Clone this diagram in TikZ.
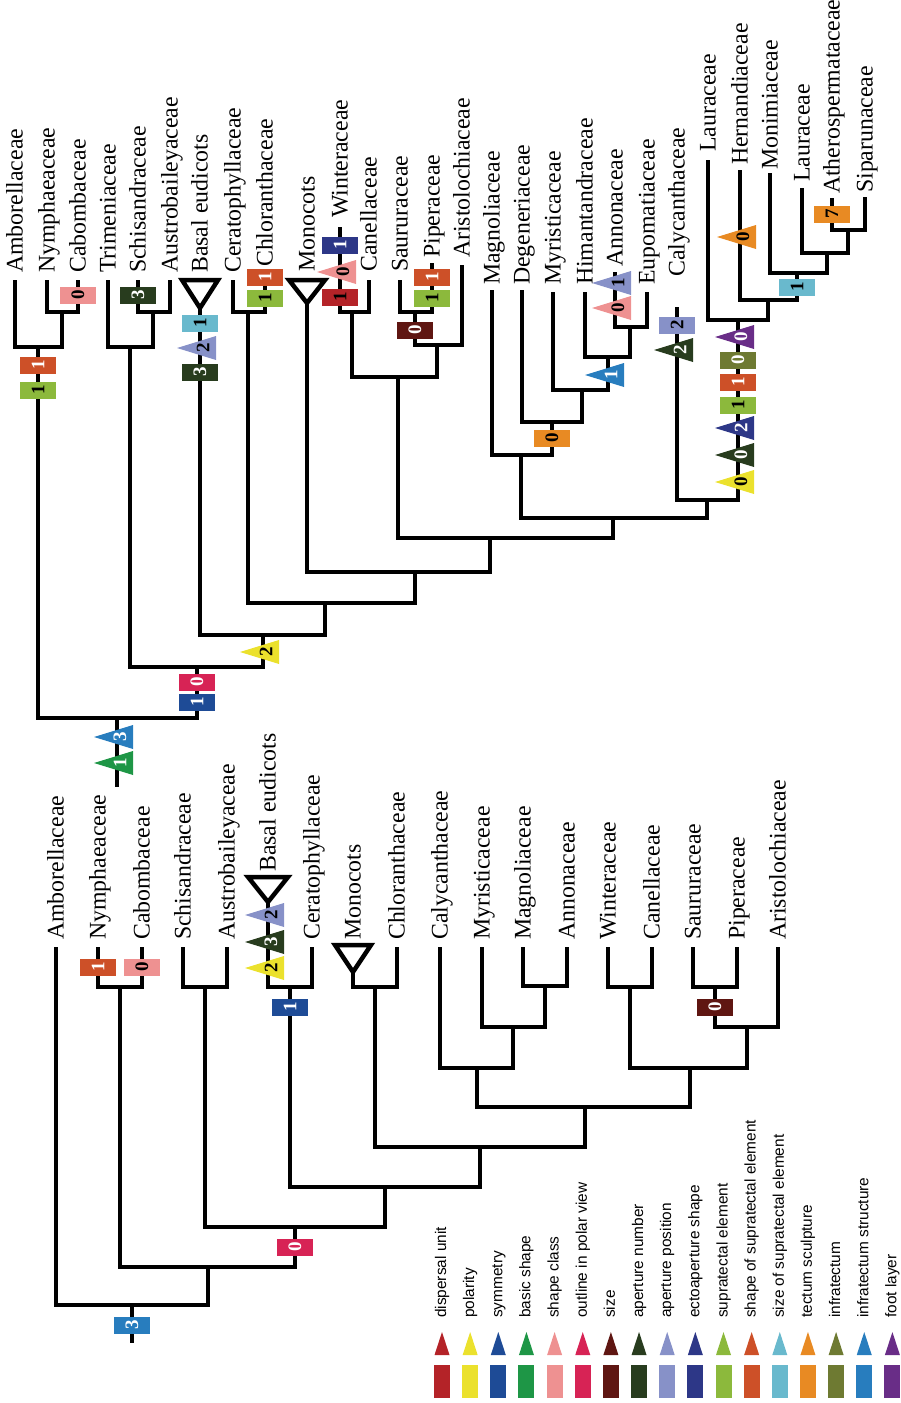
\documentclass[tikz,border=0pt]{standalone}
\usepackage{fontspec}
\setmainfont{Liberation Serif}
\newfontfamily\legfont{Liberation Sans}
\definecolor{cA}{RGB}{180,35,40}
\definecolor{cB}{RGB}{235,225,45}
\definecolor{cC}{RGB}{30,75,150}
\definecolor{cD}{RGB}{30,150,70}
\definecolor{cE}{RGB}{238,145,145}
\definecolor{cF}{RGB}{215,35,85}
\definecolor{cG}{RGB}{95,22,18}
\definecolor{cH}{RGB}{40,60,30}
\definecolor{cI}{RGB}{135,145,200}
\definecolor{cJ}{RGB}{45,55,135}
\definecolor{cK}{RGB}{140,185,60}
\definecolor{cL}{RGB}{205,80,40}
\definecolor{cM}{RGB}{105,185,205}
\definecolor{cN}{RGB}{232,138,35}
\definecolor{cO}{RGB}{110,122,50}
\definecolor{cP}{RGB}{40,125,190}
\definecolor{cQ}{RGB}{105,45,135}
\newcommand\mkfont{\fontsize{19}{19}\selectfont\bfseries}
\tikzset{
 br/.style={line width=4.5pt, line join=miter},
 clade/.style={line width=4.5pt, line join=miter},
 lab/.style={rotate=90, anchor=west, inner sep=0pt, font=\fontsize{23.8}{24}\selectfont, text height=16pt, text depth=1pt},
 mbox/.style={rotate=90, minimum width=17pt, minimum height=36pt, inner sep=0pt, font=\mkfont},
 mdig/.style={rotate=90, inner sep=0pt, font=\mkfont},
 leg/.style={rotate=90, anchor=west, inner sep=0pt, font=\legfont\fontsize{15.4}{16}\selectfont, text height=11pt, text depth=3pt},
}
\newcounter{mk}
\newcommand\mkbox[5]{\stepcounter{mk}\node[mbox,fill=#3,text=#4] (mk\arabic{mk}) at (#1,#2) {#5};}
\newcommand\mktri[5]{\stepcounter{mk}\fill[#3] (#1-23,#2) -- (#1+16,#2-12) -- (#1+16,#2+12) -- cycle; \node[mdig,text=#4] (mk\arabic{mk}) at (#1+3,#2) {#5};}
\begin{document}
\begin{tikzpicture}[x=1pt,y=-1pt]
\useasboundingbox (0,0) rectangle (901,1403);
% ================= TOP TREE =================
\coordinate (tA) at (15,280);
\coordinate (tN) at (47,280);
\coordinate (tC) at (78,280);
\coordinate (tT) at (108,280);
\coordinate (tS) at (138,280);
\coordinate (tAu) at (170,280);
\coordinate (tBE) at (200,308);
\coordinate (tCe) at (233,280);
\coordinate (tCh) at (265,280);
\coordinate (tMo) at (307,303);
\coordinate (tW) at (340,227);
\coordinate (tCa) at (369,280);
\coordinate (tSa) at (400,280);
\coordinate (tP) at (432,263);
\coordinate (tAr) at (462,265);
\coordinate (tMa) at (492,290);
\coordinate (tD) at (522,290);
\coordinate (tMy) at (553,292);
\coordinate (tH) at (585,292);
\coordinate (tAn) at (615,272);
\coordinate (tE) at (647,292);
\coordinate (tCy) at (677,307);
\coordinate (tL1) at (708,160);
\coordinate (tHe) at (740,170);
\coordinate (tMon) at (770,173);
\coordinate (tL2) at (802,188);
\coordinate (tAt) at (832,198);
\coordinate (tSi) at (865,197);
\coordinate (n1) at (62,312);
\coordinate (n2) at (38,347);
\coordinate (n3) at (153,312);
\coordinate (n4) at (130,347);
\coordinate (n5) at (248,312);
\coordinate (n6) at (352,312);
\coordinate (n7) at (415,312);
\coordinate (n8) at (437,345);
\coordinate (n9) at (398,377);
\coordinate (n10) at (630,327);
\coordinate (n11) at (608,357);
\coordinate (n12) at (582,390);
\coordinate (n13) at (552,422);
\coordinate (n14) at (521,455);
\coordinate (n15) at (848,230);
\coordinate (n16) at (827,253);
\coordinate (n17) at (797,273);
\coordinate (n18) at (768,300);
\coordinate (n19) at (738,320);
\coordinate (n20) at (707,500);
\coordinate (n21) at (613,518);
\coordinate (n22) at (490,538);
\coordinate (n23) at (415,572);
\coordinate (n24) at (325,603);
\coordinate (n25) at (263,635);
\coordinate (n26) at (197,667);
\coordinate (n27) at (117,718);
\coordinate (rootT) at (117,787);
\draw[br] (n1) -| (tN); \draw[br] (n1) -| (tC);
\draw[br] (n2) -| (tA); \draw[br] (n2) -| (n1);
\draw[br] (n3) -| (tS); \draw[br] (n3) -| (tAu);
\draw[br] (n4) -| (tT); \draw[br] (n4) -| (n3);
\draw[br] (n5) -| (tCe); \draw[br] (n5) -| (tCh);
\draw[br] (n6) -| (tW); \draw[br] (n6) -| (tCa);
\draw[br] (n7) -| (tSa); \draw[br] (n7) -| (tP);
\draw[br] (n8) -| (n7); \draw[br] (n8) -| (tAr);
\draw[br] (n9) -| (n6); \draw[br] (n9) -| (n8);
\draw[br] (n10) -| (tAn); \draw[br] (n10) -| (tE);
\draw[br] (n11) -| (tH); \draw[br] (n11) -| (n10);
\draw[br] (n12) -| (tMy); \draw[br] (n12) -| (n11);
\draw[br] (n13) -| (tD); \draw[br] (n13) -| (n12);
\draw[br] (n14) -| (tMa); \draw[br] (n14) -| (n13);
\draw[br] (n15) -| (tAt); \draw[br] (n15) -| (tSi);
\draw[br] (n16) -| (tL2); \draw[br] (n16) -| (n15);
\draw[br] (n17) -| (tMon); \draw[br] (n17) -| (n16);
\draw[br] (n18) -| (tHe); \draw[br] (n18) -| (n17);
\draw[br] (n19) -| (tL1); \draw[br] (n19) -| (n18);
\draw[br] (n20) -| (tCy); \draw[br] (n20) -| (n19);
\draw[br] (n21) -| (n14); \draw[br] (n21) -| (n20);
\draw[br] (n22) -| (n9); \draw[br] (n22) -| (n21);
\draw[br] (n23) -| (tMo); \draw[br] (n23) -| (n22);
\draw[br] (n24) -| (n5); \draw[br] (n24) -| (n23);
\draw[br] (n25) -| (tBE); \draw[br] (n25) -| (n24);
\draw[br] (n26) -| (n4); \draw[br] (n26) -| (n25);
\draw[br] (n27) -| (n2); \draw[br] (n27) -| (n26);
\draw[br] (n27) -- (rootT);
\draw[clade] (tBE) -- ++(-18,-28) -- ++(36,0) -- cycle;
\draw[clade] (tMo) -- ++(-18,-23) -- ++(36,0) -- cycle;
% labels top
\node[lab] (LtA) at (15,273) {Amborellaceae};
\node[lab] (LtN) at (47,273) {Nymphaeaceae};
\node[lab] (LtC) at (78,273) {Cabombaceae};
\node[lab] (LtT) at (108,273) {Trimeniaceae};
\node[lab] (LtS) at (138,273) {Schisandraceae};
\node[lab] (LtAu) at (170,273) {Austrobaileyaceae};
\node[lab] (LtBE) at (200,273) {Basal eudicots};
\node[lab] (LtCe) at (233,273) {Ceratophyllaceae};
\node[lab] (LtCh) at (265,267) {Chloranthaceae};
\node[lab] (LtMo) at (307,272) {Monocots};
\node[lab] (LtW) at (340,218) {Winteraceae};
\node[lab] (LtCa) at (369,272) {Canellaceae};
\node[lab] (LtSa) at (400,272) {Saururaceae};
\node[lab] (LtP) at (432,258) {Piperaceae};
\node[lab] (LtAr) at (462,258) {Aristolochiaceae};
\node[lab] (LtMa) at (492,285) {Magnoliaceae};
\node[lab] (LtD) at (522,285) {Degeneriaceae};
\node[lab] (LtMy) at (553,285) {Myristicaceae};
\node[lab] (LtH) at (585,285) {Himantandraceae};
\node[lab] (LtAn) at (615,267) {Annonaceae};
\node[lab] (LtE) at (647,285) {Eupomatiaceae};
\node[lab] (LtCy) at (677,277) {Calycanthaceae};
\node[lab] (LtL1) at (708,152) {Lauraceae};
\node[lab] (LtHe) at (740,165) {Hernandiaceae};
\node[lab] (LtMon) at (770,170) {Monimiaceae};
\node[lab] (LtL2) at (802,182) {Lauraceae};
\node[lab] (LtAt) at (832,194) {Atherospermataceae};
\node[lab] (LtSi) at (865,193) {Siparunaceae};
% markers top
\mkbox{78}{295}{cE}{black}{0}
\mkbox{38}{365}{cL}{white}{1}
\mkbox{38}{390}{cK}{black}{1}
\mkbox{138}{295}{cH}{white}{3}
\mkbox{200}{323}{cM}{black}{1}
\mktri{200}{348}{cI}{black}{2}
\mkbox{200}{372}{cH}{white}{3}
\mkbox{265}{277}{cL}{white}{1}
\mkbox{265}{298}{cK}{black}{1}
\mkbox{340}{245}{cJ}{white}{1}
\mktri{340}{272}{cE}{black}{0}
\mkbox{340}{297}{cA}{black}{1}
\mkbox{432}{277}{cL}{white}{1}
\mkbox{432}{298}{cK}{black}{1}
\mkbox{415}{330}{cG}{white}{0}
\mkbox{552}{438}{cN}{black}{0}
\mktri{608}{375}{cP}{white}{1}
\mktri{615}{283}{cI}{black}{1}
\mktri{615}{308}{cE}{black}{0}
\mkbox{677}{325}{cI}{black}{2}
\mktri{677}{350}{cH}{white}{2}
\mktri{738}{337}{cQ}{white}{0}
\mkbox{738}{360}{cO}{white}{0}
\mkbox{738}{382}{cL}{white}{1}
\mkbox{738}{405}{cK}{black}{1}
\mktri{738}{428}{cJ}{white}{2}
\mktri{738}{455}{cH}{white}{0}
\mktri{738}{482}{cB}{black}{0}
\mktri{740}{237}{cN}{black}{0}
\mkbox{797}{287}{cM}{black}{1}
\mkbox{832}{214}{cN}{black}{7}
\mktri{263}{652}{cB}{black}{2}
\mkbox{197}{682}{cF}{white}{0}
\mkbox{197}{702}{cC}{white}{1}
\mktri{117}{737}{cP}{white}{3}
\mktri{117}{763}{cD}{white}{1}
% ================= BOTTOM TREE =================
\coordinate (bA) at (56,947);
\coordinate (bN) at (98,947);
\coordinate (bC) at (142,947);
\coordinate (bS) at (183,947);
\coordinate (bAu) at (227,947);
\coordinate (bBE) at (268,902);
\coordinate (bCe) at (312,947);
\coordinate (bMo) at (353,972);
\coordinate (bCh) at (397,947);
\coordinate (bCy) at (440,947);
\coordinate (bMy) at (482,947);
\coordinate (bMa) at (523,947);
\coordinate (bAn) at (567,947);
\coordinate (bW) at (608,947);
\coordinate (bCa) at (652,947);
\coordinate (bSa) at (693,947);
\coordinate (bP) at (737,947);
\coordinate (bAr) at (778,947);
\coordinate (m1) at (120,987);
\coordinate (m2) at (205,987);
\coordinate (m3) at (290,987);
\coordinate (m4) at (375,987);
\coordinate (m5) at (545,986);
\coordinate (m6) at (513,1027);
\coordinate (m7) at (477,1068);
\coordinate (m8) at (630,987);
\coordinate (m9) at (715,987);
\coordinate (m10) at (747,1027);
\coordinate (m11) at (690,1068);
\coordinate (m12) at (585,1107);
\coordinate (m13) at (480,1147);
\coordinate (m14) at (385,1187);
\coordinate (m15) at (295,1227);
\coordinate (m16) at (208,1267);
\coordinate (m17) at (132,1305);
\coordinate (rootB) at (132,1343);
\draw[br] (m1) -| (bN); \draw[br] (m1) -| (bC);
\draw[br] (m2) -| (bS); \draw[br] (m2) -| (bAu);
\draw[br] (m3) -| (bBE); \draw[br] (m3) -| (bCe);
\draw[br] (m4) -| (bMo); \draw[br] (m4) -| (bCh);
\draw[br] (m5) -| (bMa); \draw[br] (m5) -| (bAn);
\draw[br] (m6) -| (bMy); \draw[br] (m6) -| (m5);
\draw[br] (m7) -| (bCy); \draw[br] (m7) -| (m6);
\draw[br] (m8) -| (bW); \draw[br] (m8) -| (bCa);
\draw[br] (m9) -| (bSa); \draw[br] (m9) -| (bP);
\draw[br] (m10) -| (m9); \draw[br] (m10) -| (bAr);
\draw[br] (m11) -| (m8); \draw[br] (m11) -| (m10);
\draw[br] (m12) -| (m7); \draw[br] (m12) -| (m11);
\draw[br] (m13) -| (m4); \draw[br] (m13) -| (m12);
\draw[br] (m14) -| (m3); \draw[br] (m14) -| (m13);
\draw[br] (m15) -| (m2); \draw[br] (m15) -| (m14);
\draw[br] (m16) -| (m1); \draw[br] (m16) -| (m15);
\draw[br] (m17) -| (bA); \draw[br] (m17) -| (m16);
\draw[br] (m17) -- (rootB);
\draw[clade] (bBE) -- ++(-20,-25) -- ++(40,0) -- cycle;
\draw[clade] (bMo) -- ++(-18,-27) -- ++(36,0) -- cycle;
\node[lab] (LbA) at (56,940) {Amborellaceae};
\node[lab] (LbN) at (98,940) {Nymphaeaceae};
\node[lab] (LbC) at (142,940) {Cabombaceae};
\node[lab] (LbS) at (183,940) {Schisandraceae};
\node[lab] (LbAu) at (227,940) {Austrobaileyaceae};
\node[lab] (LbBE) at (268,872) {Basal eudicots};
\node[lab] (LbCe) at (312,940) {Ceratophyllaceae};
\node[lab] (LbMo) at (353,940) {Monocots};
\node[lab] (LbCh) at (397,940) {Chloranthaceae};
\node[lab] (LbCy) at (440,940) {Calycanthaceae};
\node[lab] (LbMy) at (482,940) {Myristicaceae};
\node[lab] (LbMa) at (523,940) {Magnoliaceae};
\node[lab] (LbAn) at (567,940) {Annonaceae};
\node[lab] (LbW) at (608,940) {Winteraceae};
\node[lab] (LbCa) at (652,940) {Canellaceae};
\node[lab] (LbSa) at (693,940) {Saururaceae};
\node[lab] (LbP) at (737,940) {Piperaceae};
\node[lab] (LbAr) at (778,940) {Aristolochiaceae};
\mkbox{98}{967}{cL}{white}{1}
\mkbox{142}{967}{cE}{black}{0}
\mktri{268}{915}{cI}{black}{2}
\mktri{268}{942}{cH}{white}{3}
\mktri{268}{968}{cB}{black}{2}
\mkbox{290}{1007}{cC}{white}{1}
\mkbox{715}{1007}{cG}{white}{0}
\mkbox{295}{1247}{cF}{white}{0}
\mkbox{132}{1325}{cP}{white}{3}
% ================= LEGEND =================
\foreach \c/\lbl [count=\i from 0] in {cA/dispersal unit,cB/polarity,cC/symmetry,cD/basic shape,cE/shape class,cF/outline in polar view,cG/size,cH/aperture number,cI/aperture position,cJ/ectoaperture shape,cK/supratectal element,cL/shape of supratectal element,cM/size of supratectal element,cN/tectum sculpture,cO/infratectum,cP/infratectum structure,cQ/foot layer}{
  \pgfmathsetmacro\xx{442+28.15*\i}
  \fill[\c] (\xx-7.5,1355) -- (\xx,1332) -- (\xx+7.5,1355) -- cycle;
  \fill[\c] (\xx-8,1365) rectangle (\xx+8,1398);
  \node[leg] (L\i) at (\xx,1318) {\lbl};
}
\end{tikzpicture}
\end{document}
